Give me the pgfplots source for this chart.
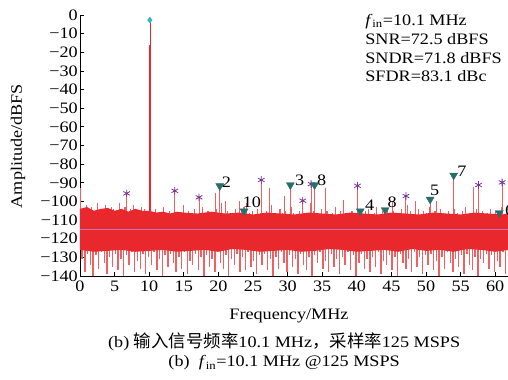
\documentclass[border=0pt]{standalone}
\usepackage{pgfplots}
\pgfplotsset{compat=1.18}
\usepackage{pgfplotstable}
\usepackage{fontspec}
\setmainfont{Liberation Serif}[FakeStretch=1.14]
\newfontfamily\cjk{Noto Sans CJK SC}
\definecolor{nred}{RGB}{232,40,44}
\definecolor{spk}{RGB}{238,96,98}
\definecolor{lav}{RGB}{196,118,168}
\definecolor{tri}{RGB}{40,110,105}
\definecolor{ast}{RGB}{120,50,150}
\definecolor{fund}{RGB}{50,185,195}

\pgfplotstableread{
x t b
0.1 -96 -131
0.5 -104 -138
0.9 -102 -128
1.3 -105 -134
1.7 -103 -140
2.1 -106 -129
2.5 -101 -136
2.9 -104 -127
3.3 -105 -133
3.7 -102 -139
4.1 -106 -130
4.5 -103 -135
4.9 -104 -128
5.3 -107 -137
5.7 -101 -131
6.1 -105 -140
6.5 -103 -129
6.9 -106 -134
7.3 -104 -127
7.7 -102 -138
8.1 -105 -132
8.5 -107 -136
8.9 -103 -128
9.3 -104 -139
9.7 -105 -130
10.1 -105 -134
10.5 -107 -127
10.9 -104 -137
11.3 -108 -131
11.7 -106 -140
12.1 -103 -129
12.5 -107 -135
12.9 -105 -128
13.3 -109 -133
13.7 -104 -138
14.1 -106 -130
14.5 -108 -136
14.9 -102 -127
15.3 -107 -139
15.7 -105 -132
16.1 -106 -134
16.5 -104 -128
16.9 -108 -137
17.3 -106 -130
17.7 -103 -140
18.1 -107 -129
18.5 -105 -135
18.9 -106 -131
19.3 -109 -138
19.7 -104 -127
20.1 -106 -133
20.5 -101 -136
20.9 -107 -129
21.3 -105 -140
21.7 -108 -131
22.1 -106 -134
22.5 -104 -128
22.9 -107 -138
23.3 -105 -130
23.7 -103 -137
24.1 -108 -127
24.5 -106 -135
24.9 -105 -132
25.3 -107 -139
25.7 -104 -129
26.1 -106 -134
26.5 -109 -128
26.9 -105 -137
27.3 -107 -131
27.7 -102 -140
28.1 -106 -130
28.5 -108 -136
28.9 -104 -127
29.3 -106 -133
29.7 -105 -138
30.1 -107 -129
30.5 -103 -135
30.9 -106 -131
31.3 -108 -139
31.7 -105 -128
32.1 -104 -134
32.5 -107 -137
32.9 -106 -130
33.3 -101 -140
33.7 -105 -129
34.1 -108 -133
34.5 -106 -127
34.9 -104 -136
35.3 -107 -132
35.7 -105 -138
36.1 -109 -128
36.5 -106 -135
36.9 -103 -131
37.3 -107 -139
37.7 -105 -130
38.1 -104 -134
38.5 -108 -127
38.9 -106 -137
39.3 -105 -129
39.7 -107 -140
40.1 -102 -133
40.5 -106 -128
40.9 -108 -136
41.3 -105 -131
41.7 -104 -138
42.1 -107 -130
42.5 -106 -135
42.9 -103 -127
43.3 -108 -139
43.7 -105 -132
44.1 -106 -134
44.5 -104 -129
44.9 -107 -137
45.3 -105 -130
45.7 -109 -140
46.1 -106 -128
46.5 -104 -133
46.9 -107 -136
47.3 -102 -131
47.7 -105 -138
48.1 -108 -127
48.5 -106 -135
48.9 -104 -130
49.3 -107 -139
49.7 -105 -129
50.1 -106 -134
50.5 -103 -128
50.9 -108 -137
51.3 -105 -132
51.7 -107 -140
52.1 -104 -130
52.5 -106 -136
52.9 -109 -127
53.3 -105 -133
53.7 -107 -138
54.1 -104 -131
54.5 -106 -135
54.9 -108 -129
55.3 -105 -139
55.7 -103 -128
56.1 -107 -134
56.5 -106 -137
56.9 -105 -130
57.3 -104 -140
57.7 -107 -131
58.1 -105 -133
58.5 -108 -128
58.9 -106 -136
59.3 -104 -129
59.7 -107 -138
60.1 -105 -132
60.5 -106 -135
60.9 -103 -127
61.3 -108 -139
61.7 -106 -130
}\noise

\pgfplotstableread{
x v
0.1 -93
6.75 -95.7
13.7 -94.3
17.2 -97.8
19.6 -95.5
20.2 -91.7
21.0 -100
23.0 -100
23.7 -105.2
24.1 -101
26.2 -88.5
27.4 -93
29.5 -97
30.4 -91.2
32.2 -99.6
33.4 -90.7
33.9 -91.2
35.4 -93
38.0 -99
40.1 -91.6
40.5 -105.2
44.1 -104.6
45.2 -100
47.1 -97.1
48.5 -100
50.6 -98.9
51.5 -100
54.0 -86.0
56.9 -92
57.6 -91.2
60.6 -106.1
61.0 -89.8
}\spikes

\pgfplotstableread{
x v
6.75 -95.7
13.7 -94.3
17.2 -97.8
26.2 -88.5
32.2 -99.6
33.4 -90.7
40.1 -91.6
47.1 -97.1
57.6 -91.2
61.0 -89.8
}\spurs

\pgfplotstableread{
x v
20.2 -91.7
23.7 -105.2
30.4 -91.2
33.9 -91.2
40.5 -105.2
44.1 -104.6
50.6 -98.9
54.0 -86.0
60.6 -106.1
}\harm

\begin{document}
\fontsize{16}{19}\selectfont
\begin{tikzpicture}
\begin{axis}[
  name=ax,
  scale only axis,
  width=428bp, height=261bp,
  xmin=0, xmax=61.85, ymin=-140, ymax=0,
  axis x line*=bottom, axis y line*=left,
  axis line style={line width=0.8pt},
  xtick={0,5,...,60},
  ytick={-140,-130,...,0},
  yticklabels={−140,−130,−120,−110,−100,−90,−80,−70,−60,−50,−40,−30,−20,−10,0},
  /pgf/number format/assume math mode=true,
  tick align=inside,
  major tick length=4bp,
  tick style={line width=0.8pt, black},
  yticklabel style={inner sep=2pt},
  xticklabel style={inner sep=3pt, yshift=-1.5bp},
  clip=false,
]
% tall spurs
\addplot[draw=none, mark=none, forget plot,
  error bars/.cd, y dir=minus, y explicit, error mark=none,
  error bar style={draw=spk, line width=0.9pt}]
  table[x=x, y=v, y error minus expr=\thisrow{v}+108] {\spikes};
% noise up
\addplot[draw=none, mark=none, forget plot,
  error bars/.cd, y dir=minus, y explicit, error mark=none,
  error bar style={draw=spk, line width=1.1pt}]
  table[x=x, y=t, y error minus expr=\thisrow{t}+117] {\noise};
% noise down
\addplot[draw=none, mark=none, forget plot,
  error bars/.cd, y dir=plus, y explicit, error mark=none,
  error bar style={draw=spk, line width=1.4pt}]
  table[x expr=\thisrow{x}+0.2, y=b, y error plus expr=-117-\thisrow{b}] {\noise};
% solid band
\addplot[fill=nred, draw=none] coordinates {
(0,-104)(1,-103)(2,-105)(3,-104)(4,-103.5)(5,-105)(6,-104)(7,-105.5)(8,-104)(9,-105)
(10,-105)(11,-106)(12,-105.5)(13,-106.5)(14,-105.5)(15,-106)(17,-106.5)(19,-105.5)
(21,-106.5)(23,-106)(25,-107)(27,-106)(29,-106.5)(31,-107)(33,-106)(35,-106.5)(37,-107)
(39,-106)(41,-106.5)(43,-107)(45,-106)(47,-106.5)(49,-107)(51,-106)(53,-106.5)(55,-107)
(57,-106)(59,-106.5)(61,-107)(61.85,-106.5)
(61.85,-126)(60,-127)(58,-126)(56,-125.5)(54,-127)(52,-126)(50,-126.5)(48,-125.5)(46,-127)
(44,-126)(42,-126.5)(40,-127)(38,-126)(36,-125.5)(34,-126.5)(32,-127)(30,-126)(28,-126.5)
(26,-127)(24,-126)(22,-125.5)(20,-127)(18,-126)(16,-126.5)(14,-127)(12,-126)(10,-126.5)
(8,-127)(6,-126)(4,-126.5)(2,-127)(0,-126)} -- cycle;
% average line
\addplot[lav, line width=0.9pt] coordinates {(0,-115)(61.85,-115)};
% fundamental
\addplot[nred, line width=1.4pt] coordinates {(10.1,-110)(10.1,-16)};
\addplot[nred, line width=0.6pt] coordinates {(10.1,-16)(10.1,-2.7)};
\addplot[only marks, mark=diamond*, mark size=3bp, color=fund] coordinates {(10.1,-2.7)};
% markers
\addplot[only marks, mark=asterisk, mark size=3.8bp, color=ast, line width=0.8pt] table[x=x,y=v] {\spurs};
\addplot[only marks, mark=triangle*, mark size=4.6bp, color=tri, mark options={rotate=180}] table[x=x,y=v] {\harm};
% harmonic labels
\node[anchor=base west, inner sep=0] at (axis cs:20.48,-92.4) {2};
\node[anchor=base west, inner sep=0] at (axis cs:23.51,-103.2) {10};
\node[anchor=base west, inner sep=0] at (axis cs:31.07,-91.7) {3};
\node[anchor=base west, inner sep=0] at (axis cs:34.25,-91.4) {8};
\node[anchor=base west, inner sep=0] at (axis cs:41.18,-104.6) {4};
\node[anchor=base west, inner sep=0] at (axis cs:44.41,-103.2) {8};
\node[anchor=base west, inner sep=0] at (axis cs:50.58,-96.6) {5};
\node[anchor=base west, inner sep=0] at (axis cs:54.52,-86.7) {7};
\node[anchor=base west, inner sep=0] at (axis cs:61.42,-107.8) {6};
% info text
\node[anchor=base west, inner sep=0] at (axis cs:41.2,-5.4) {\textit{f}\textsubscript{in}=10.1 MHz};
\node[anchor=base west, inner sep=0] at (axis cs:41.2,-15.7) {SNR=72.5 dBFS};
\node[anchor=base west, inner sep=0] at (axis cs:41.2,-25.9) {SNDR=71.8 dBFS};
\node[anchor=base west, inner sep=0] at (axis cs:41.2,-35.8) {SFDR=83.1 dBc};
% labels and captions
\node[anchor=center, rotate=90, inner sep=0] at (axis cs:-8.96,-70.3) {Amplitude/dBFS};
\node[anchor=base, inner sep=0] at (axis cs:30.2,-163.1) {Frequency/MHz};
\node[anchor=base, inner sep=0] at (axis cs:29.5,-178.6) {(b) {\cjk\fontsize{17.5}{19}\selectfont 输入信号频率}10.1 MHz{\cjk\fontsize{17.5}{19}\selectfont ，采样率}125 MSPS};
\node[anchor=base, inner sep=0] at (axis cs:29.5,-188.8) {(b)\ \ \textit{f}\textsubscript{in}=10.1 MHz @125 MSPS};
\end{axis}
\pgfresetboundingbox
\path[use as bounding box] (ax.south west) ++(-80bp,-104bp) rectangle ([yshift=15bp]ax.north east);
\end{tikzpicture}
\end{document}
